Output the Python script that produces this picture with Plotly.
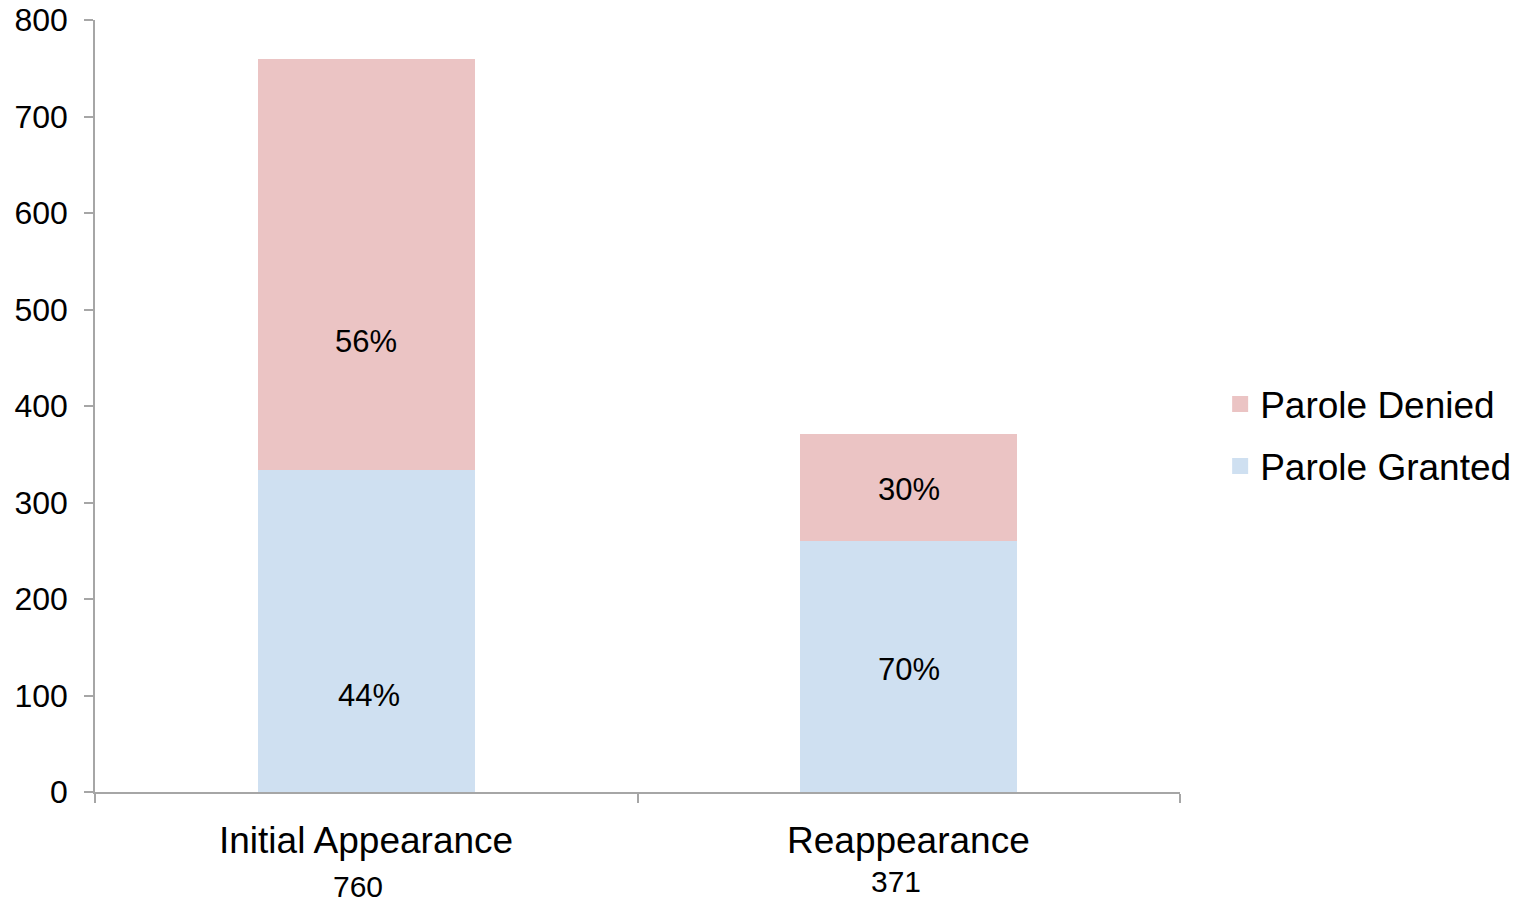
import plotly.graph_objects as go

categories = ["Initial Appearance", "Reappearance"]
totals = [760, 371]
granted = [334, 260]
denied = [426, 111]
granted_labels = ["44%", "70%"]
denied_labels = ["56%", "30%"]

# label placement (styling, not data)
granted_label_y = [100, 127]
denied_label_y = [467, 313]
granted_label_dx = [3, 0]
total_label_dx = [-8, -13]
total_label_y = [-0.123, -0.1153]

FONT = "Arial, Liberation Sans, sans-serif"
C_GRANTED = "#cfe0f1"
C_DENIED = "#ebc4c4"
AXIS = "#a6a6a6"

fig = go.Figure()
fig.add_trace(go.Bar(x=categories, y=granted, name="Parole Granted",
                     marker=dict(color=C_GRANTED, line=dict(width=0)),
                     width=0.4, showlegend=False))
fig.add_trace(go.Bar(x=categories, y=denied, name="Parole Denied",
                     marker=dict(color=C_DENIED, line=dict(width=0)),
                     width=0.4, showlegend=False))
# legend entries with larger square swatches
fig.add_trace(go.Scatter(x=[None], y=[None], mode="markers", name="Parole Denied",
                         marker=dict(symbol="square", size=20, color=C_DENIED),
                         legendgroup="d", legendrank=1))
fig.add_trace(go.Scatter(x=[None], y=[None], mode="markers", name="Parole Granted",
                         marker=dict(symbol="square", size=20, color=C_GRANTED),
                         legendgroup="g", legendrank=2))

ann = []
for i, c in enumerate(categories):
    ann.append(dict(x=c, y=granted_label_y[i], xref="x", yref="y", text=granted_labels[i],
                    showarrow=False, xshift=granted_label_dx[i],
                    font=dict(family=FONT, size=31, color="black")))
    ann.append(dict(x=c, y=denied_label_y[i], xref="x", yref="y", text=denied_labels[i],
                    showarrow=False, font=dict(family=FONT, size=31, color="black")))
    ann.append(dict(x=c, y=-0.0622, xref="x", yref="paper", text=c, showarrow=False,
                    yanchor="middle", font=dict(family=FONT, size=37, color="black")))
    ann.append(dict(x=c, y=total_label_y[i], xref="x", yref="paper", text=str(totals[i]),
                    showarrow=False, yanchor="middle", xshift=total_label_dx[i],
                    font=dict(family=FONT, size=30, color="black")))

fig.update_layout(
    width=1524, height=905,
    barmode="stack",
    plot_bgcolor="white", paper_bgcolor="white",
    margin=dict(l=95, r=344, t=20, b=113, autoexpand=False),
    font=dict(family=FONT, color="black"),
    annotations=ann,
    legend=dict(x=1.037, y=0.462, xanchor="left", yanchor="middle",
                traceorder="grouped", tracegroupgap=11,
                font=dict(family=FONT, size=37, color="black"),
                bgcolor="rgba(0,0,0,0)"),
    xaxis=dict(range=[-0.5, 1.5], showticklabels=False, showgrid=False,
               showline=True, linecolor=AXIS, linewidth=1.5,
               ticks="outside", tickson="boundaries", ticklen=9,
               tickcolor=AXIS, tickwidth=1.5, zeroline=False),
    yaxis=dict(range=[0, 800], dtick=100, tick0=0, showgrid=False,
               showline=True, linecolor=AXIS, linewidth=1.5,
               ticks="outside", ticklen=9, tickcolor=AXIS, tickwidth=1.5,
               ticklabelstandoff=10, zeroline=False,
               tickfont=dict(family=FONT, size=32, color="black")),
)

fig.write_html("out.html")
